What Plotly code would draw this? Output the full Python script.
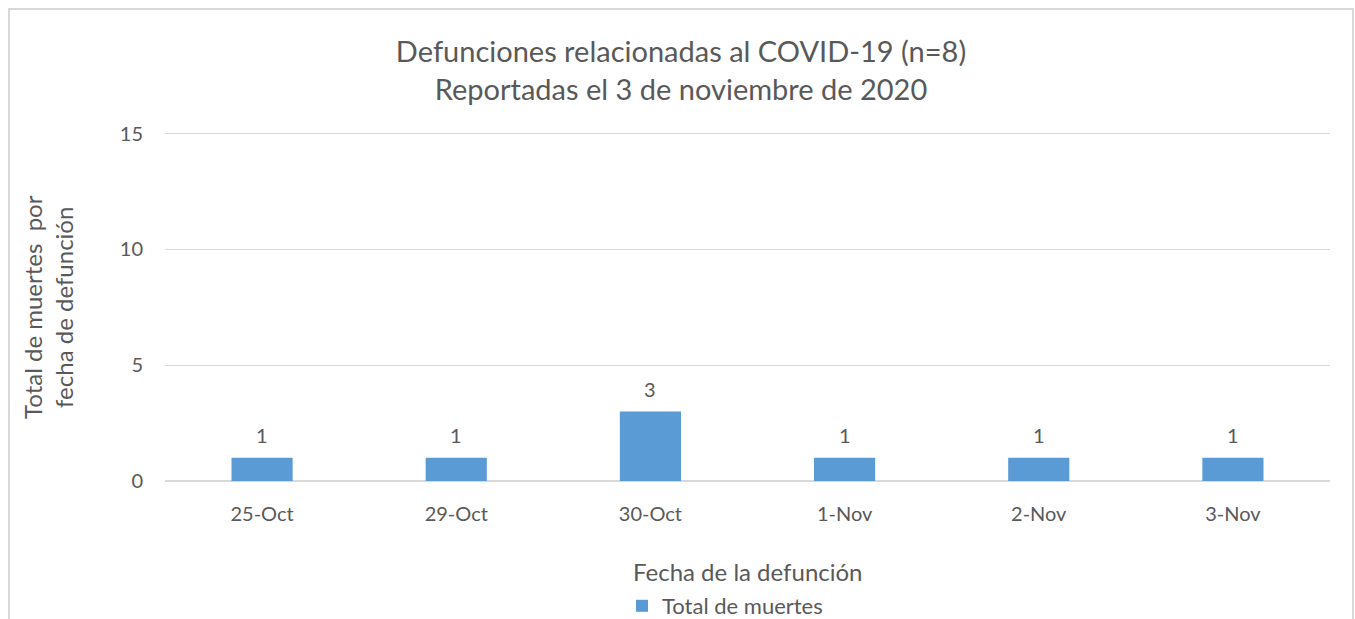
import plotly.graph_objects as go

categories = ["25-Oct", "29-Oct", "30-Oct", "1-Nov", "2-Nov", "3-Nov"]
deaths = [1, 1, 3, 1, 1, 1]
y_ticks = [0, 5, 10, 15]

FONT = "Lato"
GREY = "#595959"

fig = go.Figure()
fig.add_trace(go.Bar(
    x=categories, y=deaths, name="Total de muertes",
    marker=dict(color="#5B9BD5", line=dict(width=0)),
    width=0.315,
))
for c, v in zip(categories, deaths):
    fig.add_annotation(
        x=c, y=v, xref="x", yref="y", text=str(v), showarrow=False,
        yanchor="middle", yshift=23,
        font=dict(family=FONT, size=20, color=GREY),
    )

W, H = 1355, 619
YMAX = 15.2
L, R, B = 165, 25, 138
T = int(round(134 - 347 * (YMAX - 15) / 15))
pw, ph = W - L - R, H - T - B

def px_x(x):
    return (x - L) / pw

def px_y(y):
    return (H - B - y) / ph

fig.update_layout(
    width=W, height=H,
    margin=dict(l=L, r=R, t=T, b=B, autoexpand=False),
    paper_bgcolor="white", plot_bgcolor="white",
    font=dict(family=FONT, color=GREY),
    title=dict(
        text="Defunciones relacionadas al COVID-19 (n=8)<br>Reportadas el 3 de noviembre de 2020",
        x=681 / W, xanchor="center", xref="container",
        y=1 - 62 / H, yanchor="middle", yref="container",
        font=dict(family=FONT, size=29, color=GREY),
    ),
    xaxis=dict(
        type="category", showgrid=False, showline=True, linecolor="#d9d9d9",
        tickfont=dict(family=FONT, size=20, color=GREY), ticks="",
        ticklabelstandoff=15,
    ),
    yaxis=dict(
        range=[0, YMAX], tickvals=y_ticks, showgrid=True, gridcolor="#d9d9d9",
        zeroline=True, zerolinecolor="#d9d9d9", showline=False,
        tickfont=dict(family=FONT, size=20, color=GREY), ticks="",
        ticklabelstandoff=21,
    ),
    showlegend=True,
    legend=dict(
        orientation="h", x=px_x(622), xanchor="left",
        y=1 - 606 / H, yanchor="middle", yref="container",
        font=dict(family=FONT, size=22, color=GREY),
    ),
)

fig.add_annotation(
    text="Fecha de la defunción", xref="paper", yref="paper",
    x=0.5, y=px_y(571), xanchor="center", yanchor="middle",
    showarrow=False, font=dict(family=FONT, size=24, color=GREY),
)
fig.add_annotation(
    text="Total de muertes  por<br>fecha de defunción", xref="paper", yref="paper",
    x=px_x(48), y=px_y(307), xanchor="center", yanchor="middle", textangle=-90,
    showarrow=False, font=dict(family=FONT, size=24, color=GREY),
)
fig.add_shape(
    type="rect", xref="paper", yref="paper",
    x0=px_x(9), x1=px_x(1353), y0=px_y(640), y1=px_y(9),
    line=dict(color="#d9d9d9", width=2), fillcolor="rgba(0,0,0,0)", layer="below",
)

fig.write_html("out.html", config={"displayModeBar": False},
               post_script="document.body.style.margin='0';")
